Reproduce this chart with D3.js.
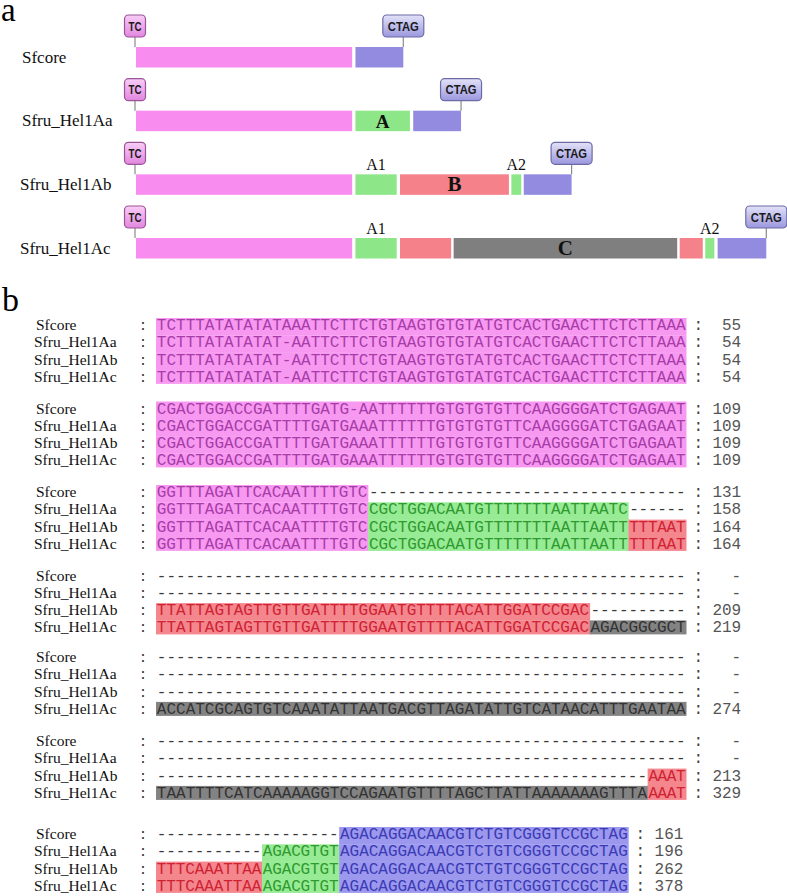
<!DOCTYPE html>
<html><head><meta charset="utf-8">
<script src="https://cdn.jsdelivr.net/npm/d3@7"></script>
<style>body{margin:0;background:#fff}svg{display:block}</style>
</head><body>
<svg id="c" width="787" height="896"></svg>
<script>
// ---------------- DATA ----------------
const names = ["Sfcore", "Sfru_Hel1Aa", "Sfru_Hel1Ab", "Sfru_Hel1Ac"];

// Panel a: schematic segments per element, [region, start, end] (approx. bp units)
const segSfcore = [["p", 0, 131], ["b", 133, 162]];
const segAa = [["p", 0, 131], ["g", 133, 166], ["b", 168, 197]];
const segAb = [["p", 0, 131], ["g", 133, 158], ["r", 160, 226], ["g", 227.5, 233.5], ["b", 235, 264]];
const segAc = [["p", 0, 131], ["g", 133, 158], ["r", 160, 191], ["k", 192.5, 328], ["r", 329.5, 343.5], ["g", 345, 350.5], ["b", 352.5, 382]];
// labels: [row, segment index, text]
const insideLabels = [[1, 1, "A"], [2, 2, "B"], [3, 3, "C"]];
const aboveLabels = [[2, 1, "A1"], [2, 3, "A2"], [3, 1, "A1"], [3, 5, "A2"]];

// Panel b: alignment blocks (4 rows each)
const blueSeq = "AGACAGGACAACGTCTGTCGGGTCCGCTAG";
const dash = n => "-".repeat(n);
const seqBlocks = [
  ["TCTTTATATATATAAATTCTTCTGTAAGTGTGTATGTCACTGAACTTCTCTTAAA",
   "TCTTTATATATAT-AATTCTTCTGTAAGTGTGTATGTCACTGAACTTCTCTTAAA",
   "TCTTTATATATAT-AATTCTTCTGTAAGTGTGTATGTCACTGAACTTCTCTTAAA",
   "TCTTTATATATAT-AATTCTTCTGTAAGTGTGTATGTCACTGAACTTCTCTTAAA"],
  ["CGACTGGACCGATTTTGATG-AATTTTTTGTGTGTGTTCAAGGGGATCTGAGAAT",
   "CGACTGGACCGATTTTGATGAAATTTTTTGTGTGTGTTCAAGGGGATCTGAGAAT",
   "CGACTGGACCGATTTTGATGAAATTTTTTGTGTGTGTTCAAGGGGATCTGAGAAT",
   "CGACTGGACCGATTTTGATGAAATTTTTTGTGTGTGTTCAAGGGGATCTGAGAAT"],
  ["GGTTTAGATTCACAATTTTGTC" + dash(33),
   "GGTTTAGATTCACAATTTTGTCCGCTGGACAATGTTTTTTTAATTAATC------",
   "GGTTTAGATTCACAATTTTGTCCGCTGGACAATGTTTTTTTAATTAATTTTTAAT",
   "GGTTTAGATTCACAATTTTGTCCGCTGGACAATGTTTTTTTAATTAATTTTTAAT"],
  [dash(55), dash(55),
   "TTATTAGTAGTTGTTGATTTTGGAATGTTTTACATTGGATCCGAC----------",
   "TTATTAGTAGTTGTTGATTTTGGAATGTTTTACATTGGATCCGACAGACGGCGCT"],
  [dash(55), dash(55), dash(55),
   "ACCATCGCAGTGTCAAATATTAATGACGTTAGATATTGTCATAACATTTGAATAA"],
  [dash(55), dash(55), dash(51) + "AAAT",
   "TAATTTTCATCAAAAAGGTCCAGAATGTTTTAGCTTATTAAAAAAAGTTTAAAAT"],
  [dash(19) + blueSeq,
   dash(11) + "AGACGTGT" + blueSeq,
   "TTTCAAATTAA" + "AGACGTGT" + blueSeq,
   "TTTCAAATTAA" + "AGACGTGT" + blueSeq]
];
// highlight runs: region letter + length (p pink, g green, r red, k grey, b blue, . none)
const regionBlocks = [
  ["p55", "p55", "p55", "p55"],
  ["p55", "p55", "p55", "p55"],
  ["p22 .33", "p22 g27 .6", "p22 g27 r6", "p22 g27 r6"],
  [".55", ".55", "r45 .10", "r45 k10"],
  [".55", ".55", ".55", "k55"],
  [".55", ".55", ".51 r4", "k51 r4"],
  [".19 b30", ".11 g8 b30", "r11 g8 b30", "r11 g8 b30"]
];
const endCounts = [
  ["55", "54", "54", "54"],
  ["109", "109", "109", "109"],
  ["131", "158", "164", "164"],
  ["-", "-", "209", "219"],
  ["-", "-", "-", "274"],
  ["-", "-", "213", "329"],
  ["161", "196", "262", "378"]
];

// ---------------- STYLE ----------------
const colA = {p: "#f98cef", g: "#8de688", r: "#f5818a", k: "#7f7f7f", b: "#928be0"};
const bandCol = {p: "#f799f1", g: "#97eb95", r: "#f4868d", k: "#838383", b: "#9b98ee"};
const txtCol = {p: "#a83ca8", g: "#2f9a2f", r: "#cf2233", k: "#333333", b: "#3b3bb5", ".": "#3a3a3a"};
const serif = "'Liberation Serif','Times New Roman',serif";
const mono = "'Liberation Mono','Courier New',monospace";
const sans = "'Liberation Sans',Arial,sans-serif";

const svg = d3.select("#c");
const defs = svg.append("defs");
function grad(id, c1, c2) {
  const g = defs.append("linearGradient").attr("id", id).attr("x1", 0).attr("y1", 0).attr("x2", 0).attr("y2", 1);
  g.append("stop").attr("offset", "0%").attr("stop-color", c1);
  g.append("stop").attr("offset", "100%").attr("stop-color", c2);
}
grad("gTC", "#f8cdf6", "#e286df");
grad("gCT", "#e2e2f8", "#9b97de");

// ---------------- PANEL A ----------------
svg.append("text").attr("x", 1).attr("y", 21).attr("font-family", serif).attr("font-size", 33).text("a");

const segRows = [segSfcore, segAa, segAb, segAc];
const xA = d3.scaleLinear().domain([0, 382]).range([136, 766.3]);
const yA = d3.scaleLinear().domain([0, 3]).range([47, 238]);
const barH = 20.5;

segRows.forEach((segs, i) => {
  const top = yA(i);
  const g = svg.append("g");
  g.append("text").attr("x", i < 2 ? 22 : 20).attr("y", top + 15.5)
    .attr("font-family", serif).attr("font-size", 17).attr("fill", "#111").text(names[i]);
  g.selectAll("rect.seg").data(segs).join("rect").attr("class", "seg")
    .attr("x", d => xA(d[1])).attr("width", d => xA(d[2]) - xA(d[1]))
    .attr("y", top).attr("height", barH).attr("fill", d => colA[d[0]]);
  // tags
  const tags = [
    {x: xA(segs[0][1]) - 1, w: 21, label: "TC", fill: "url(#gTC)", stroke: "#9a5598", tl: 13},
    {x: xA(segs[segs.length - 1][2]), w: 41, label: "CTAG", fill: "url(#gCT)", stroke: "#6d6ba6", tl: 31}
  ];
  tags.forEach(t => {
    g.append("line").attr("x1", t.x).attr("x2", t.x).attr("y1", top - 10).attr("y2", top)
      .attr("stroke", "#8a8a8a").attr("stroke-width", 1.2);
    g.append("rect").attr("x", t.x - t.w / 2).attr("y", top - 32).attr("width", t.w).attr("height", 22)
      .attr("rx", 4).attr("fill", t.fill).attr("stroke", t.stroke).attr("stroke-width", 1.2);
    g.append("text").attr("x", t.x).attr("y", top - 16.5).attr("text-anchor", "middle")
      .attr("font-family", sans).attr("font-weight", "bold").attr("font-size", 12)
      .attr("textLength", t.tl).attr("lengthAdjust", "spacingAndGlyphs").attr("fill", "#1a1a1a").text(t.label);
  });
});
insideLabels.forEach(([r, s, t]) => {
  const seg = segRows[r][s];
  svg.append("text").attr("x", (xA(seg[1]) + xA(seg[2])) / 2).attr("y", yA(r) + 17)
    .attr("text-anchor", "middle").attr("font-family", serif).attr("font-weight", "bold")
    .attr("font-size", t === "A" ? 19 : 21).attr("fill", "#111").text(t);
});
aboveLabels.forEach(([r, s, t]) => {
  const seg = segRows[r][s];
  svg.append("text").attr("x", (xA(seg[1]) + xA(seg[2])) / 2).attr("y", yA(r) - 4)
    .attr("text-anchor", "middle").attr("font-family", serif).attr("font-size", 16)
    .attr("fill", "#111").text(t);
});

// ---------------- PANEL B ----------------
svg.append("text").attr("x", 2).attr("y", 311).attr("font-family", serif).attr("font-size", 34).text("b");

const cw = 9.64, bx0 = 156, rowStep = 17.3;
const blockY = [325, 408.5, 492, 575.5, 657, 741, 834];
const xB = d3.scaleLinear().domain([0, 1]).range([bx0, bx0 + cw]);

const bandLayer = svg.append("g");
const textLayer = svg.append("g");

function regionAt(b, r, col) {
  if (r > 3) return ".";
  let s = 0;
  for (const tok of regionBlocks[b][r].split(" ")) {
    const len = +tok.slice(1);
    if (col < s + len) return tok[0];
    s += len;
  }
  return ".";
}

seqBlocks.forEach((rows, b) => {
  rows.forEach((seq, r) => {
    const c = blockY[b] + r * rowStep;
    const n = seq.length;
    textLayer.append("text").attr("x", r === 0 ? 36 : 34).attr("y", c + 5)
      .attr("font-family", serif).attr("font-size", 15.5).attr("fill", "#111").text(names[r]);
    textLayer.append("text").attr("x", 143).attr("y", c + 5).attr("text-anchor", "middle")
      .attr("font-family", serif).attr("font-size", 16).attr("fill", "#222").text(":");
    const runs = regionBlocks[b][r].split(" ").map(s => ({reg: s[0], len: +s.slice(1)}));
    let s0 = 0;
    runs.forEach(run => {
      const sub = seq.slice(s0, s0 + run.len);
      if (run.reg !== ".") {
        const joined = regionAt(b, r + 1, s0) !== ".";
        bandLayer.append("rect").attr("x", xB(s0)).attr("width", xB(s0 + run.len) - xB(s0) + 0.3)
          .attr("y", c - 7).attr("height", joined ? rowStep + 0.3 : 14).attr("fill", bandCol[run.reg]);
      }
      textLayer.append("text").attr("x", xB(s0) + 0.8).attr("y", c + 5)
        .attr("font-family", mono).attr("font-size", 16)
        .attr("textLength", run.len * cw - 1.4).attr("lengthAdjust", "spacing")
        .attr("fill", txtCol[run.reg]).text(sub);
      s0 += run.len;
    });
    textLayer.append("text").attr("x", xB(n) + 12).attr("y", c + 5).attr("text-anchor", "middle")
      .attr("font-family", mono).attr("font-size", 16).attr("fill", "#444").text(":");
    textLayer.append("text").attr("x", xB(n) + 55).attr("y", c + 5).attr("text-anchor", "end")
      .attr("font-family", mono).attr("font-size", 16).attr("fill", "#555").text(endCounts[b][r]);
  });
});
</script>
</body></html>
